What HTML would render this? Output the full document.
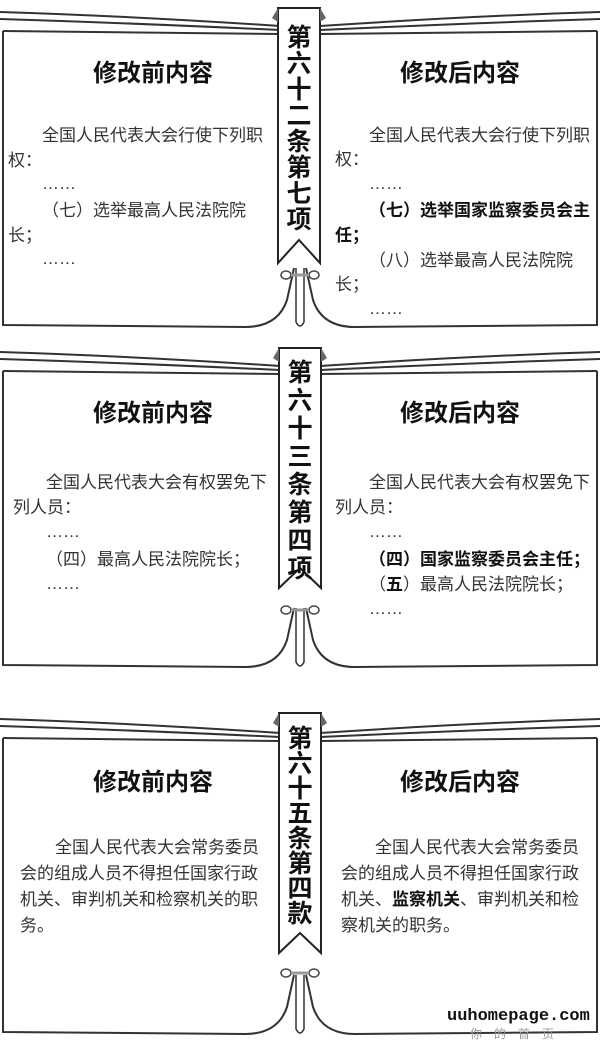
<!DOCTYPE html>
<html><head><meta charset="utf-8"><style>
html,body{margin:0;padding:0;background:#fff;}
svg{display:block;}
text{font-family:"Liberation Sans","Noto Sans CJK SC",sans-serif;fill:#222;}
.h{font-size:24px;font-weight:bold;fill:#111;text-anchor:middle;}
.t{font-size:17px;fill:#333;}
.t3{font-size:17px;fill:#333;}
.b{font-weight:bold;fill:#111;}
.r{font-size:25px;font-weight:bold;fill:#111;text-anchor:middle;}
.ln{fill:none;stroke:#333;stroke-width:2;}
</style></head><body>
<svg width="600" height="1043" viewBox="0 0 600 1043" xmlns="http://www.w3.org/2000/svg">
<defs>
<g id="book">
  <path d="M3,31 L3,325 L245,327 Q278,327 287,300 L294,268" class="ln"/>
  <path d="M0,12 Q130,16 280,26" class="ln"/>
  <path d="M0,19 Q130,23 280,30" class="ln"/>
  <path d="M3,31 L280,34" class="ln"/>
  <path d="M597,31 L597,325 L355,327 Q322,327 313,300 L306,268" class="ln"/>
  <path d="M600,12 Q470,16 320,26" class="ln"/>
  <path d="M600,19 Q470,23 320,30" class="ln"/>
  <path d="M597,31 L320,34" class="ln"/>
  <path d="M296,268 L296,322 Q298,326 300,326 Q302,326 304,322 L304,268" fill="#fff" stroke="#333" stroke-width="1.5"/>
</g>
</defs>

<g>
  <use href="#book"/>
  <path d="M278,8 L320,8 L320,263 L299,240 L278,263 Z" fill="#fff" stroke="#222" stroke-width="2"/>
  <path d="M272,18 L278,8 L278,22Z M326,18 L320,8 L320,22Z" fill="#666"/>
  <ellipse cx="286" cy="275" rx="5" ry="4" fill="#fff" stroke="#444" stroke-width="1.5"/>
  <ellipse cx="314" cy="275" rx="5" ry="4" fill="#fff" stroke="#444" stroke-width="1.5"/>
  <line x1="291" y1="275" x2="309" y2="275" stroke="#999" stroke-width="3"/>
  <text class="r" x="299" y="46">第</text>
  <text class="r" x="299" y="72">六</text>
  <text class="r" x="299" y="98">十</text>
  <text class="r" x="299" y="124">二</text>
  <text class="r" x="299" y="150">条</text>
  <text class="r" x="299" y="176">第</text>
  <text class="r" x="299" y="202">七</text>
  <text class="r" x="299" y="228">项</text>
  <text class="h" x="153" y="81">修改前内容</text>
  <text class="h" x="460" y="81">修改后内容</text>
  <text class="t" x="42" y="141">全国人民代表大会行使下列职</text>
  <text class="t" x="8" y="166">权：</text>
  <text class="t" x="42" y="189">……</text>
  <text class="t" x="42" y="216">（七）选举最高人民法院院</text>
  <text class="t" x="8" y="241">长；</text>
  <text class="t" x="42" y="264">……</text>
  <text class="t" x="369" y="141">全国人民代表大会行使下列职</text>
  <text class="t" x="335" y="165">权：</text>
  <text class="t" x="369" y="189">……</text>
  <text class="t b" x="369" y="216">（七）选举国家监察委员会主</text>
  <text class="t b" x="335" y="241">任；</text>
  <text class="t" x="369" y="266">（八）选举最高人民法院院</text>
  <text class="t" x="335" y="290">长；</text>
  <text class="t" x="369" y="314">……</text>
</g>

<g transform="translate(0,340)">
  <use href="#book"/>
  <path d="M279,8 L321,8 L321,248 L300,228 L279,248 Z" fill="#fff" stroke="#222" stroke-width="2"/>
  <path d="M273,18 L279,8 L279,22Z M327,18 L321,8 L321,22Z" fill="#666"/>
  <ellipse cx="286" cy="270" rx="5" ry="4" fill="#fff" stroke="#444" stroke-width="1.5"/>
  <ellipse cx="314" cy="270" rx="5" ry="4" fill="#fff" stroke="#444" stroke-width="1.5"/>
  <line x1="291" y1="270" x2="309" y2="270" stroke="#999" stroke-width="3"/>
  <text class="r" x="300" y="41">第</text>
  <text class="r" x="300" y="69">六</text>
  <text class="r" x="300" y="97">十</text>
  <text class="r" x="300" y="125">三</text>
  <text class="r" x="300" y="153">条</text>
  <text class="r" x="300" y="181">第</text>
  <text class="r" x="300" y="209">四</text>
  <text class="r" x="300" y="237">项</text>
  <text class="h" x="153" y="81">修改前内容</text>
  <text class="h" x="460" y="81">修改后内容</text>
  <text class="t" x="46" y="148">全国人民代表大会有权罢免下</text>
  <text class="t" x="13" y="173">列人员：</text>
  <text class="t" x="46" y="197">……</text>
  <text class="t" x="46" y="225">（四）最高人民法院院长；</text>
  <text class="t" x="46" y="249">……</text>
  <text class="t" x="369" y="148">全国人民代表大会有权罢免下</text>
  <text class="t" x="335" y="173">列人员：</text>
  <text class="t" x="369" y="197">……</text>
  <text class="t b" x="369" y="225">（四）国家监察委员会主任；</text>
  <text class="t" x="369" y="250">（<tspan class="b">五</tspan>）最高人民法院院长；</text>
  <text class="t" x="369" y="274">……</text>
</g>

<g transform="translate(0,707)">
  <use href="#book"/>
  <path d="M279,6 L321,6 L321,246 L300,226 L279,246 Z" fill="#fff" stroke="#222" stroke-width="2"/>
  <path d="M273,16 L279,6 L279,20Z M327,16 L321,6 L321,20Z" fill="#666"/>
  <ellipse cx="286" cy="266" rx="5" ry="4" fill="#fff" stroke="#444" stroke-width="1.5"/>
  <ellipse cx="314" cy="266" rx="5" ry="4" fill="#fff" stroke="#444" stroke-width="1.5"/>
  <line x1="291" y1="266" x2="309" y2="266" stroke="#999" stroke-width="3"/>
  <text class="r" x="300" y="40">第</text>
  <text class="r" x="300" y="65">六</text>
  <text class="r" x="300" y="90">十</text>
  <text class="r" x="300" y="115">五</text>
  <text class="r" x="300" y="140">条</text>
  <text class="r" x="300" y="165">第</text>
  <text class="r" x="300" y="190">四</text>
  <text class="r" x="300" y="215">款</text>
  <text class="h" x="153" y="83">修改前内容</text>
  <text class="h" x="460" y="83">修改后内容</text>
  <text class="t3" x="55" y="146">全国人民代表大会常务委员</text>
  <text class="t3" x="20" y="172">会的组成人员不得担任国家行政</text>
  <text class="t3" x="20" y="198">机关、审判机关和检察机关的职</text>
  <text class="t3" x="20" y="224">务。</text>
  <text class="t3" x="375" y="146">全国人民代表大会常务委员</text>
  <text class="t3" x="341" y="172">会的组成人员不得担任国家行政</text>
  <text class="t3" x="341" y="198">机关、<tspan class="b">监察机关</tspan>、审判机关和检</text>
  <text class="t3" x="341" y="224">察机关的职务。</text>
</g>
<text x="447" y="1020" style="font-family:'Liberation Mono',monospace;font-size:17px;font-weight:bold;fill:#111;">uuhomepage.com</text>
<text x="470" y="1038" style="font-size:12px;fill:#999;letter-spacing:12px;">你的首页</text>
</svg>
</body></html>
